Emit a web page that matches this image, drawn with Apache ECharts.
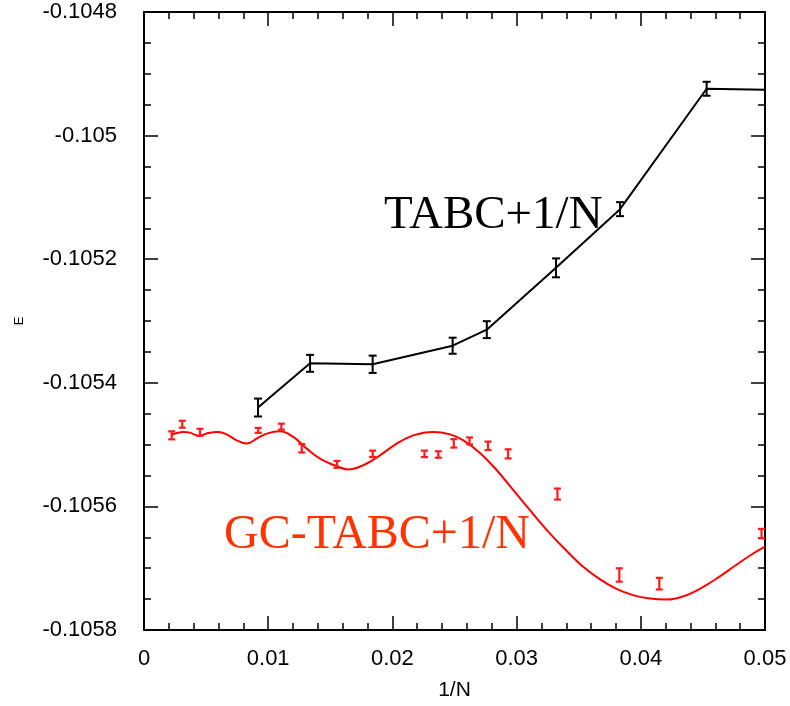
<!DOCTYPE html>
<html>
<head>
<meta charset="utf-8">
<script src="https://cdn.jsdelivr.net/npm/echarts@6/dist/echarts.min.js"></script>
<style>
  html, body { margin: 0; padding: 0; background: #fff; }
  #chart { width: 790px; height: 706px; }
</style>
</head>
<body>
<div id="chart"></div>
<script>
// TABC+1/N energies with error bars: [1/N, E, error]
const tabcX   = [0.00918, 0.01337, 0.01841, 0.02485, 0.02760, 0.03317, 0.03833, 0.04530];
const tabcE   = [-0.105440, -0.1053685, -0.105370, -0.105340, -0.105314, -0.105214, -0.105119, -0.1049242];
const tabcErr = [0.0000145, 0.0000137, 0.0000140, 0.0000130, 0.0000137, 0.0000153, 0.0000113, 0.0000113];
// the line runs on to the edge of the frame
const tabcTailX = 0.05;
const tabcTailE = -0.1049258;

// GC-TABC+1/N energies with error bars
const gcX   = [0.00223, 0.00308, 0.00451, 0.00920, 0.01106, 0.01270, 0.01554, 0.01841, 0.02258,
               0.02370, 0.02494, 0.02621, 0.02770, 0.02932, 0.03329, 0.03827, 0.04149, 0.04972];
const gcE   = [-0.105485, -0.105467, -0.105480, -0.105477, -0.105471, -0.105506, -0.105532, -0.105515, -0.105515,
               -0.105516, -0.105498, -0.105494, -0.105502, -0.105515, -0.105580, -0.105711, -0.105725, -0.105644];
const gcErr = [0.0000065, 0.0000056, 0.0000056, 0.0000040, 0.0000048, 0.0000068, 0.0000056, 0.0000052, 0.0000052,
               0.0000052, 0.0000068, 0.0000056, 0.0000069, 0.0000073, 0.0000089, 0.0000108, 0.0000094, 0.0000076];

// smooth GC-TABC fit curve
const fitX = [0.00223, 0.00316, 0.00370, 0.00445, 0.00518, 0.00598, 0.00666, 0.00746, 0.00827, 0.00907,
              0.00988, 0.01095, 0.01202, 0.01310, 0.01417, 0.01552, 0.01645, 0.01766, 0.01900, 0.02035,
              0.02168, 0.02329, 0.02464, 0.02571, 0.027053, 0.028422, 0.029791, 0.031159, 0.032528, 0.033897,
              0.035266, 0.036634, 0.038003, 0.039372, 0.040741, 0.042110, 0.043478, 0.044847, 0.046216, 0.047585,
              0.048953, 0.05000];
const fitE = [-0.105484, -0.1054795, -0.1054806, -0.105486, -0.1054811, -0.1054795, -0.1054834, -0.1054931, -0.1054984, -0.1054903,
              -0.1054823, -0.1054785, -0.1054876, -0.1055065, -0.1055226, -0.105535, -0.1055403, -0.1055334, -0.1055173, -0.1054984,
              -0.105485, -0.1054795, -0.1054834, -0.1054931, -0.1055134, -0.1055419, -0.105575, -0.1056081, -0.1056403, -0.1056694,
              -0.105696, -0.1057169, -0.1057331, -0.1057436, -0.1057492, -0.1057508, -0.1057452, -0.1057323, -0.1057153, -0.105696,
              -0.1056774, -0.105665];

const xTicks = { min: 0, max: 0.05, step: 0.01 };
const yTicks = { min: -0.1058, max: -0.1048, step: 0.0002 };

const zip3 = (a, b, c) => a.map((v, i) => [v, b[i], c[i]]);
const zip2 = (a, b) => a.map((v, i) => [v, b[i]]);

function errorBars(color, capHalf, width) {
  return function (params, api) {
    const x = api.value(0), y = api.value(1), e = api.value(2);
    const hi = api.coord([x, y + e]);
    const lo = api.coord([x, y - e]);
    const st = { stroke: color, lineWidth: width };
    return {
      type: 'group',
      children: [
        { type: 'line', shape: { x1: hi[0], y1: hi[1], x2: lo[0], y2: lo[1] }, style: st },
        { type: 'line', shape: { x1: hi[0] - capHalf, y1: hi[1], x2: hi[0] + capHalf, y2: hi[1] }, style: st },
        { type: 'line', shape: { x1: lo[0] - capHalf, y1: lo[1], x2: lo[0] + capHalf, y2: lo[1] }, style: st }
      ]
    };
  };
}

const labelFont = { fontFamily: 'Liberation Sans', fontSize: 22, color: '#000' };
const lineStyle = { color: '#000', width: 2 };
const tickMajor = { show: true, inside: true, length: 14, lineStyle: { color: '#000', width: 1.5 } };
const tickMinor = { show: true, splitNumber: 0, length: 7, lineStyle: { color: '#000', width: 1.5 } };

const fmt = v => String(+v.toFixed(6));

const chart = echarts.init(document.getElementById('chart'), null, { renderer: 'canvas' });
chart.setOption({
  animation: false,
  backgroundColor: '#fff',
  grid: { left: 144, right: 25, top: 12, bottom: 74, containLabel: false },
  xAxis: [
    {
      type: 'value', position: 'bottom', min: xTicks.min, max: xTicks.max, interval: xTicks.step,
      axisLine: { show: true, lineStyle }, axisTick: tickMajor,
      minorTick: Object.assign({}, tickMinor, { splitNumber: 5 }),
      splitLine: { show: false },
      axisLabel: Object.assign({ margin: 18, formatter: fmt }, labelFont),
      name: '1/N', nameLocation: 'middle', nameGap: 50,
      nameTextStyle: { fontFamily: 'Liberation Sans', fontSize: 21, color: '#000' }
    },
    {
      type: 'value', position: 'top', min: xTicks.min, max: xTicks.max, interval: xTicks.step,
      axisLine: { show: true, onZero: false, lineStyle }, axisTick: tickMajor,
      minorTick: Object.assign({}, tickMinor, { splitNumber: 5 }),
      splitLine: { show: false }, axisLabel: { show: false }
    }
  ],
  yAxis: [
    {
      type: 'value', position: 'left', min: yTicks.min, max: yTicks.max, interval: yTicks.step,
      axisLine: { show: true, onZero: false, lineStyle }, axisTick: tickMajor,
      minorTick: Object.assign({}, tickMinor, { splitNumber: 4 }),
      splitLine: { show: false },
      axisLabel: Object.assign({ margin: 27, formatter: fmt }, labelFont),
      name: 'E', nameLocation: 'middle', nameGap: 118, nameRotate: 90,
      nameTextStyle: { fontFamily: 'Liberation Sans', fontSize: 13, color: '#000' }
    },
    {
      type: 'value', position: 'right', min: yTicks.min, max: yTicks.max, interval: yTicks.step,
      axisLine: { show: true, onZero: false, lineStyle }, axisTick: tickMajor,
      minorTick: Object.assign({}, tickMinor, { splitNumber: 4 }),
      splitLine: { show: false }, axisLabel: { show: false }
    }
  ],
  series: [
    {
      type: 'line', name: 'GC-TABC fit', xAxisIndex: 0, yAxisIndex: 0,
      data: zip2(fitX, fitE), smooth: 0.4, showSymbol: false, symbol: 'none',
      lineStyle: { color: '#ff0000', width: 2 }, z: 3
    },
    {
      type: 'line', name: 'TABC+1/N', xAxisIndex: 0, yAxisIndex: 0,
      data: zip2(tabcX.concat([tabcTailX]), tabcE.concat([tabcTailE])),
      showSymbol: false, symbol: 'none',
      lineStyle: { color: '#000', width: 2 }, z: 3
    },
    {
      type: 'custom', name: 'TABC+1/N errors', xAxisIndex: 0, yAxisIndex: 0,
      data: zip3(tabcX, tabcE, tabcErr), renderItem: errorBars('#000', 4, 2),
      encode: { x: 0, y: 1 }, z: 4
    },
    {
      type: 'custom', name: 'GC-TABC+1/N errors', xAxisIndex: 0, yAxisIndex: 0,
      data: zip3(gcX, gcE, gcErr), renderItem: errorBars('#ff1a1a', 3.5, 2.2),
      encode: { x: 0, y: 1 }, z: 4
    }
  ],
  graphic: [
    {
      type: 'text', left: 384, top: 192, z: 10,
      style: { text: 'TABC+1/N', font: '47px "Liberation Serif"', fill: '#000' }
    },
    {
      type: 'text', left: 224, top: 511, z: 10,
      style: { text: 'GC-TABC+1/N', font: '48px "Liberation Serif"', fill: '#ff3300' }
    }
  ]
});
</script>
</body>
</html>
